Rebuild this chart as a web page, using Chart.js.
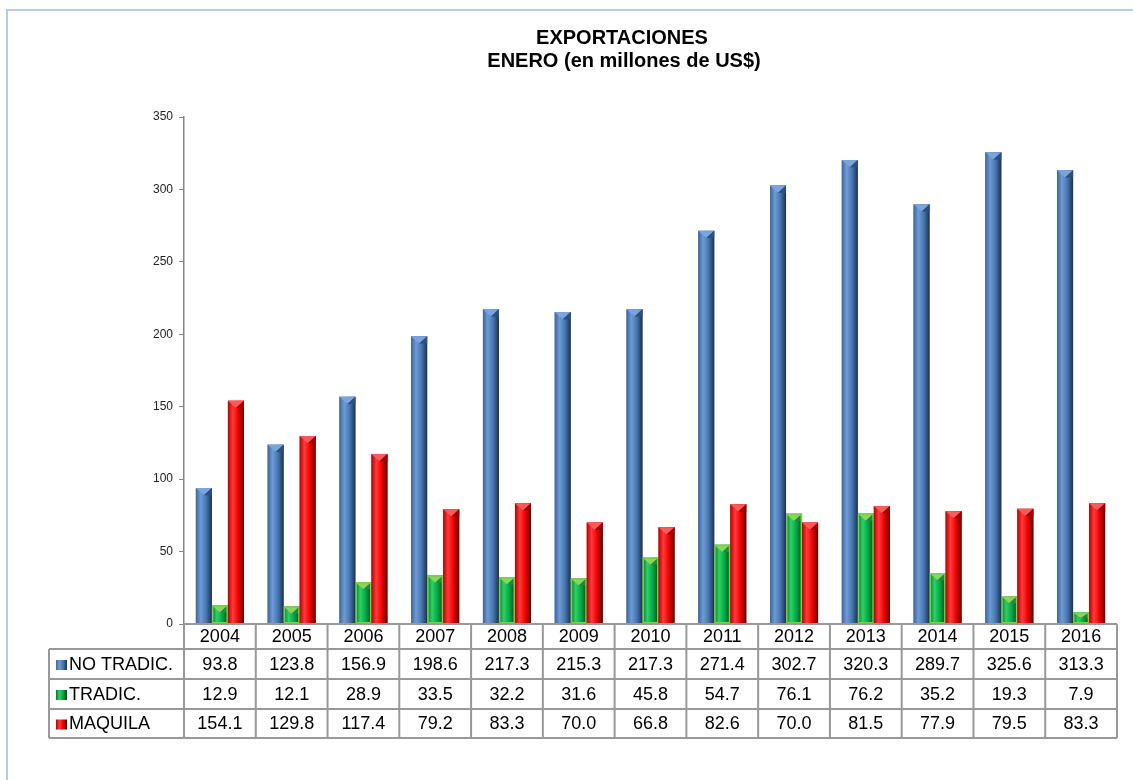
<!DOCTYPE html>
<html>
<head>
<meta charset="utf-8">
<script src="https://cdn.jsdelivr.net/npm/chart.js@4.4.0/dist/chart.umd.min.js"></script>
<style>
  html, body { margin: 0; padding: 0; background: #fff; }
  #wrap { width: 1133px; height: 780px; }
</style>
</head>
<body>
<div id="wrap"><canvas id="expChart" width="1133" height="780"></canvas></div>
<script>
const years = ['2004', '2005', '2006', '2007', '2008', '2009', '2010', '2011', '2012', '2013', '2014', '2015', '2016'];
const noTradic = [93.8, 123.8, 156.9, 198.6, 217.3, 215.3, 217.3, 271.4, 302.7, 320.3, 289.7, 325.6, 313.3];
const tradic = [12.9, 12.1, 28.9, 33.5, 32.2, 31.6, 45.8, 54.7, 76.1, 76.2, 35.2, 19.3, 7.9];
const maquila = [154.1, 129.8, 117.4, 79.2, 83.3, 70.0, 66.8, 82.6, 70.0, 81.5, 77.9, 79.5, 83.3];
const seriesNames = ['NO TRADIC.', 'TRADIC.', 'MAQUILA'];
const titleLines = ['EXPORTACIONES', 'ENERO (en millones de US$)'];

// colour stops for the shaded bars: left, highlight, mid, right edge, cap
const shades = [
    { stops: ['#3a659e', '#6f9bd4', '#4575b0', '#1b3050'], cap: '#7aa4dc', capDark: '#2c4f80', edge: null },
    { stops: ['#00752f', '#2fd066', '#00a843', '#00471c'], cap: '#8bd65a', capDark: '#1e8a3a', edge: '#7ccf4a' },
    { stops: ['#b80000', '#ff3a3a', '#f00000', '#5a0000'], cap: '#ff5a5a', capDark: '#a00000', edge: null }
];

const lineGray = '#999999';
const font = '"Liberation Sans", Arial, sans-serif';

function shadeFill(c, x, w, s) {
    const g = c.createLinearGradient(x, 0, x + w, 0);
    g.addColorStop(0, s.stops[0]);
    g.addColorStop(0.3, s.stops[1]);
    g.addColorStop(0.65, s.stops[2]);
    g.addColorStop(1, s.stops[3]);
    return g;
}

// repaint bars with a bit of the 3D look
const barLook = {
    id: 'barLook',
    afterDatasetsDraw(chart) {
        const c = chart.ctx;
        chart.data.datasets.forEach((ds, di) => {
            const s = shades[di];
            chart.getDatasetMeta(di).data.forEach(bar => {
                const x = bar.x - bar.width / 2;
                const w = bar.width;
                const top = bar.y;
                const h = bar.base - bar.y;
                c.save();
                c.fillStyle = shadeFill(c, x, w, s);
                c.fillRect(x, top, w, h);
                // pyramid cap
                const capH = Math.min(w * 0.45, h / 2);
                c.beginPath();
                c.moveTo(x, top);
                c.lineTo(x + w, top);
                c.lineTo(x + w / 2, top + capH);
                c.closePath();
                c.fillStyle = s.cap;
                c.fill();
                c.beginPath();
                c.moveTo(x + w, top);
                c.lineTo(x + w / 2, top + capH);
                c.lineTo(x + w, top + capH);
                c.closePath();
                c.fillStyle = s.capDark;
                c.fill();
                if (s.edge) {
                    c.strokeStyle = s.edge;
                    c.lineWidth = 1.5;
                    c.strokeRect(x + 0.75, top + 0.75, w - 1.5, h - 1.5);
                }
                c.restore();
            });
        });
    }
};

// title, frame and the data table under the plot
const tableAndTitle = {
    id: 'tableAndTitle',
    beforeDraw(chart) {
        const c = chart.ctx;
        c.save();
        c.fillStyle = '#fff';
        c.fillRect(0, 0, chart.width, chart.height);
        c.strokeStyle = '#b7cbe6';
        c.lineWidth = 2;
        c.beginPath();
        c.moveTo(7, chart.height);
        c.lineTo(7, 10);
        c.lineTo(chart.width, 10);
        c.stroke();
        c.restore();
    },
    afterDraw(chart) {
        const c = chart.ctx;
        const area = chart.chartArea;
        const xs = chart.scales.x;
        const n = years.length;
        const colW = (area.right - area.left) / n;
        const labelLeft = 49;
        const rows = [area.bottom, area.bottom + 25, area.bottom + 55, area.bottom + 85, area.bottom + 114];
        const data = [noTradic, tradic, maquila];

        c.save();
        // title
        c.fillStyle = '#000';
        c.textAlign = 'center';
        c.textBaseline = 'alphabetic';
        c.font = 'bold 20px ' + font;
        c.fillText(titleLines[0], 622, 44);
        c.fillText(titleLines[1], 624, 67);

        // grid of the table
        c.strokeStyle = lineGray;
        c.lineWidth = 2;
        c.beginPath();
        c.moveTo(area.left, rows[0]);
        c.lineTo(area.right, rows[0]);
        for (let r = 1; r < rows.length; r++) {
            c.moveTo(labelLeft, rows[r]);
            c.lineTo(area.right, rows[r]);
        }
        for (let i = 0; i <= n; i++) {
            const x = area.left + i * colW;
            c.moveTo(x, rows[0]);
            c.lineTo(x, rows[4]);
        }
        c.moveTo(labelLeft, rows[1]);
        c.lineTo(labelLeft, rows[4]);
        c.stroke();

        // texts
        c.font = '18px ' + font;
        c.textBaseline = 'middle';
        c.textAlign = 'center';
        years.forEach((y, i) => {
            c.fillText(y, xs.getPixelForTick(i), (rows[0] + rows[1]) / 2 + 1);
        });
        data.forEach((vals, r) => {
            const cy = (rows[r + 1] + rows[r + 2]) / 2 + 1;
            c.textAlign = 'center';
            vals.forEach((v, i) => {
                c.fillText(v.toFixed(1), xs.getPixelForTick(i), cy);
            });
            // legend key
            const s = shades[r];
            c.fillStyle = shadeFill(c, 56, 11, s);
            c.fillRect(56, cy - 5, 11, 10);
            c.fillStyle = '#000';
            c.textAlign = 'left';
            c.fillText(seriesNames[r], 69, cy);
        });
        c.restore();
    }
};

const chart = new Chart(document.getElementById('expChart'), {
    type: 'bar',
    data: {
        labels: years,
        datasets: [
            { label: seriesNames[0], data: noTradic, backgroundColor: '#4f81bd' },
            { label: seriesNames[1], data: tradic, backgroundColor: '#00b050' },
            { label: seriesNames[2], data: maquila, backgroundColor: '#ff0000' }
        ]
    },
    options: {
        responsive: false,
        animation: false,
        events: [],
        layout: { padding: { top: 117, bottom: 156, left: 0, right: 16 } },
        datasets: { bar: { categoryPercentage: 0.67, barPercentage: 1.0 } },
        scales: {
            x: { display: false },
            y: {
                min: 0,
                max: 350,
                afterFit(scale) { scale.width = 184; },
                ticks: { stepSize: 50, padding: 6, color: '#222', font: { family: font, size: 12 } },
                grid: { drawOnChartArea: false, drawTicks: true, tickLength: 5, color: '#868686' },
                border: { display: true, color: '#868686', width: 1.5 }
            }
        },
        plugins: {
            legend: { display: false },
            title: { display: false },
            tooltip: { enabled: false }
        }
    },
    plugins: [tableAndTitle, barLook]
});
</script>
</body>
</html>
